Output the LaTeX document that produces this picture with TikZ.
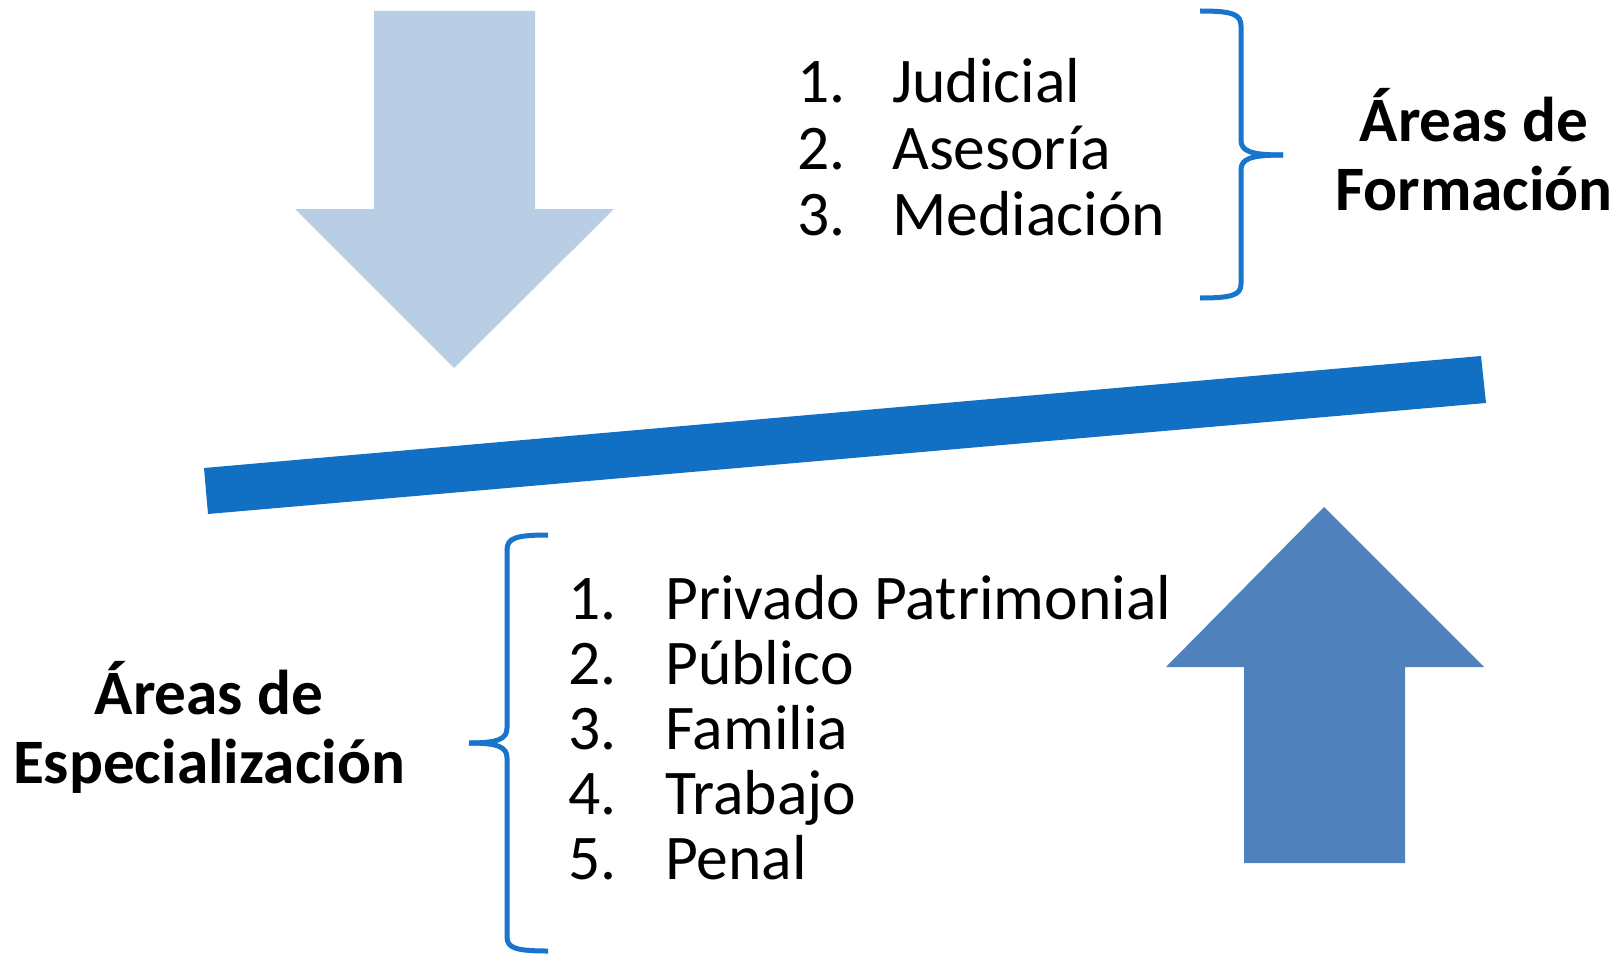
\documentclass[tikz,border=0pt]{standalone}
\usepackage{fontspec}
\setmainfont{Carlito}
\definecolor{barblue}{RGB}{17,112,196}
\definecolor{lightarrow}{RGB}{185,205,229}
\definecolor{uparrowcol}{RGB}{79,129,189}
\definecolor{bracecol}{RGB}{24,116,205}
\begin{document}
\begin{tikzpicture}[x=1pt,y=-1pt,
  item/.style={anchor=base west,inner sep=0pt,font=\fontsize{63.6}{65}\selectfont},
  headline/.style={anchor=base,inner sep=0pt,font=\bfseries\fontsize{63.3}{65}\selectfont},
  bracestroke/.style={draw=bracecol,line width=5pt}]
\useasboundingbox (0,0) rectangle (1622,955);
\fill[white] (0,0) rectangle (1622,955);
% down arrow
\fill[lightarrow] (374,11) -- (535,11) -- (535,209) -- (614,209) -- (454,368) -- (295,209) -- (374,209) -- cycle;
% bar
\fill[barblue] (204,468) -- (1481,356) -- (1486,403) -- (208,514) -- cycle;
% up arrow
\fill[uparrowcol] (1324,507) -- (1484,667) -- (1405,667) -- (1405,863) -- (1244,863) -- (1244,667) -- (1166,667) -- cycle;
% top list
\node[item] (n1) at (797,103) {1.};
\node[item] (t1) at (892,103) {Judicial};
\node[item] (n2) at (797,169) {2.};
\node[item] (t2) at (892,169) {Asesoría};
\node[item] (n3) at (797,235) {3.};
\node[item] (t3) at (892,235) {Mediación};
% top brace
\coordinate (tbtop) at (1200,11);
\coordinate (tbtip) at (1283,155);
\coordinate (tbbot) at (1200,298);
\draw[bracestroke] (tbtop) .. controls (1232,11) and (1241,14) .. (1241,26) -- (1241,140)
  .. controls (1241,151) and (1250,155) .. (tbtip);
\draw[bracestroke] (tbtip) .. controls (1250,155) and (1241,159) .. (1241,170) -- (1241,284)
  .. controls (1241,295) and (1232,298) .. (tbbot);
% heading formacion
\node[headline] (hf1) at (1474,142) {Áreas de};
\node[headline] (hf2) at (1474,210) {Formación};
% bottom list
\node[item] (m1) at (568,619) {1.};
\node[item] (s1) at (665,619) {Privado Patrimonial};
\node[item] (m2) at (568,684) {2.};
\node[item] (s2) at (665,684) {Público};
\node[item] (m3) at (568,749) {3.};
\node[item] (s3) at (665,749) {Familia};
\node[item] (m4) at (568,814) {4.};
\node[item] (s4) at (665,814) {Trabajo};
\node[item] (m5) at (568,879) {5.};
\node[item] (s5) at (665,879) {Penal};
% bottom brace
\coordinate (bbtop) at (548,535);
\coordinate (bbtip) at (469,743);
\coordinate (bbbot) at (548,951);
\draw[bracestroke] (bbtop) .. controls (516,535) and (507,538) .. (507,550) -- (507,728)
  .. controls (507,739) and (498,743) .. (bbtip);
\draw[bracestroke] (bbtip) .. controls (498,743) and (507,747) .. (507,758) -- (507,937)
  .. controls (507,948) and (516,951) .. (bbbot);
% heading especializacion
\node[headline] (he1) at (209,714) {Áreas de};
\node[headline] (he2) at (209,783) {Especialización};
\end{tikzpicture}
\end{document}
